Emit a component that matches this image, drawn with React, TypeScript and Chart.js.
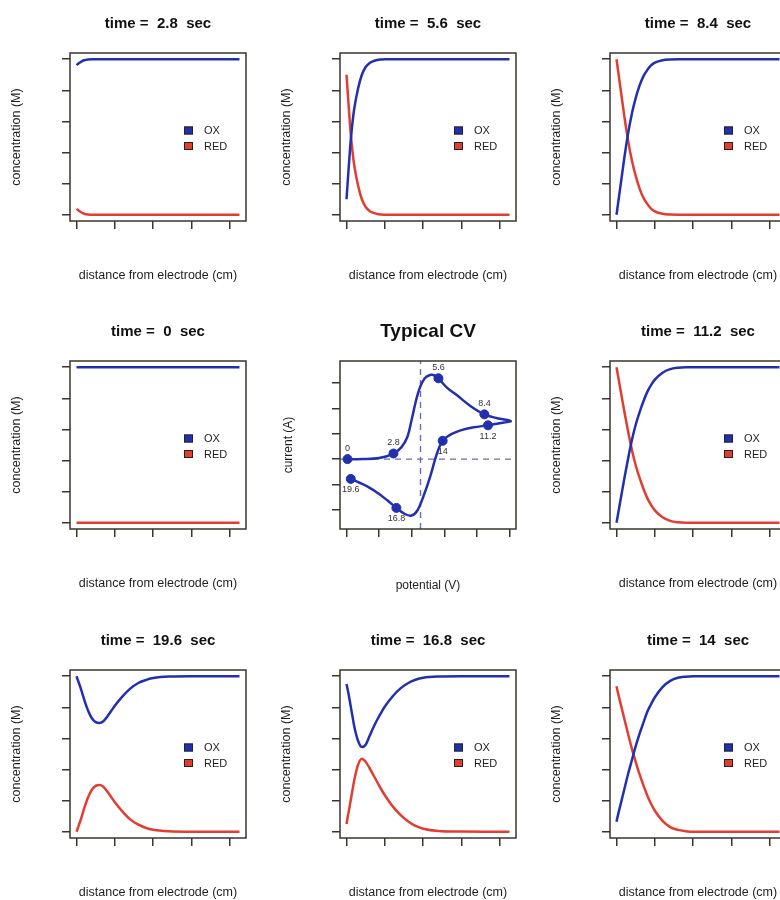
import React, { useEffect, useRef } from 'react';
import { Chart, registerables } from 'chart.js';

Chart.register(...registerables);

const FONT = '"Liberation Sans", Arial, Helvetica, sans-serif';
const BLUE = '#2230b0';
const RED = '#e23d31';
const FRAME = '#3a362c';
const TEXT = '#1e1e1e';
const DASH = '#6a6cb4';

// ---------- concentration profiles ----------
const distance = [0, 0.05, 0.1, 0.15, 0.2, 0.3, 0.4, 0.5, 0.6, 0.7, 0.8, 0.9, 1.0, 1.2, 1.4, 1.6, 1.8, 2.0, 2.4, 3.0, 3.6, 4.25];
const distanceTicks = [0, 1, 2, 3, 4];
const concTicks = [0, 0.2, 0.4, 0.6, 0.8, 1.0];

const ox_0 = [1, 1, 1, 1, 1, 1, 1, 1, 1, 1, 1, 1, 1, 1, 1, 1, 1, 1, 1, 1, 1, 1];
const red_0 = [0, 0, 0, 0, 0, 0, 0, 0, 0, 0, 0, 0, 0, 0, 0, 0, 0, 0, 0, 0, 0, 0];
const ox_2_8 = [0.962, 0.972, 0.981, 0.988, 0.993, 0.998, 1, 1, 1, 1, 1, 1, 1, 1, 1, 1, 1, 1, 1, 1, 1, 1];
const red_2_8 = [0.038, 0.028, 0.019, 0.012, 0.007, 0.002, 0, 0, 0, 0, 0, 0, 0, 0, 0, 0, 0, 0, 0, 0, 0, 0];
const ox_5_6 = [0.10, 0.28, 0.45, 0.58, 0.68, 0.81, 0.90, 0.95, 0.975, 0.988, 0.995, 0.998, 1, 1, 1, 1, 1, 1, 1, 1, 1, 1];
const red_5_6 = [0.90, 0.72, 0.55, 0.42, 0.32, 0.19, 0.10, 0.05, 0.025, 0.012, 0.005, 0.002, 0, 0, 0, 0, 0, 0, 0, 0, 0, 0];
const ox_8_4 = [0, 0.09, 0.18, 0.27, 0.36, 0.52, 0.65, 0.75, 0.83, 0.89, 0.93, 0.96, 0.978, 0.994, 0.999, 1, 1, 1, 1, 1, 1, 1];
const red_8_4 = [1, 0.91, 0.82, 0.73, 0.64, 0.48, 0.35, 0.25, 0.17, 0.11, 0.07, 0.04, 0.022, 0.006, 0.001, 0, 0, 0, 0, 0, 0, 0];
const ox_11_2 = [0, 0.07, 0.14, 0.21, 0.28, 0.41, 0.53, 0.63, 0.71, 0.78, 0.84, 0.885, 0.92, 0.965, 0.988, 0.997, 1, 1, 1, 1, 1, 1];
const red_11_2 = [1, 0.93, 0.86, 0.79, 0.72, 0.59, 0.47, 0.37, 0.29, 0.22, 0.16, 0.115, 0.08, 0.035, 0.012, 0.003, 0, 0, 0, 0, 0, 0];
const ox_14 = [0.065, 0.12, 0.17, 0.22, 0.27, 0.37, 0.46, 0.55, 0.63, 0.70, 0.77, 0.82, 0.865, 0.93, 0.97, 0.99, 0.997, 1, 1, 1, 1, 1];
const red_14 = [0.935, 0.88, 0.83, 0.78, 0.73, 0.63, 0.535, 0.45, 0.37, 0.30, 0.235, 0.18, 0.135, 0.07, 0.03, 0.012, 0.004, 0, 0, 0, 0, 0];
const ox_16_8 = [0.95, 0.89, 0.82, 0.75, 0.68, 0.585, 0.545, 0.56, 0.615, 0.67, 0.72, 0.765, 0.805, 0.87, 0.92, 0.955, 0.977, 0.99, 0.998, 1, 1, 1];
const red_16_8 = [0.05, 0.12, 0.19, 0.26, 0.33, 0.43, 0.47, 0.45, 0.41, 0.365, 0.32, 0.275, 0.235, 0.165, 0.11, 0.068, 0.038, 0.02, 0.005, 0.001, 0, 0];
const ox_19_6 = [1, 0.965, 0.93, 0.89, 0.85, 0.78, 0.73, 0.705, 0.70, 0.71, 0.74, 0.775, 0.81, 0.87, 0.92, 0.955, 0.975, 0.988, 0.998, 1, 1, 1];
const red_19_6 = [0, 0.035, 0.07, 0.11, 0.15, 0.22, 0.27, 0.295, 0.30, 0.29, 0.26, 0.225, 0.19, 0.13, 0.08, 0.047, 0.026, 0.013, 0.003, 0, 0, 0];

// ---------- cyclic voltammogram ----------
const cvPotential = [0.03, 0.5, 1.0, 1.44, 1.68, 1.86, 1.99, 2.13, 2.25, 2.40, 2.56, 2.71, 2.82, 3.08, 3.38, 3.80, 4.23, 4.62, 5.04, 4.70, 4.34, 3.90, 3.50, 3.20, 2.95, 2.77, 2.56, 2.35, 2.17, 1.99, 1.79, 1.53, 1.25, 1.00, 0.70, 0.40, 0.13];
const cvCurrent = [0, 0, 0.04, 0.22, 0.46, 0.85, 1.50, 2.29, 2.81, 3.18, 3.31, 3.29, 3.18, 2.81, 2.52, 2.09, 1.76, 1.61, 1.50, 1.41, 1.33, 1.25, 1.13, 0.97, 0.72, 0.20, -0.72, -1.50, -2.03, -2.22, -2.16, -1.92, -1.62, -1.37, -1.12, -0.93, -0.78];
const cvMarkerPotential = [0.03, 1.44, 2.82, 4.23, 4.34, 2.95, 1.53, 0.13];
const cvMarkerCurrent = [0, 0.22, 3.18, 1.76, 1.33, 0.72, -1.92, -0.78];
const cvMarkerTime = ['0', '2.8', '5.6', '8.4', '11.2', '14', '16.8', '19.6'];
const cvLabelSide = [1, 1, 1, 1, -1, -1, -1, -1]; // 1 = above, -1 = below
const cvE0 = 2.27;
const cvPotentialTicks = [0, 1, 2, 3, 4, 5];
const cvCurrentTicks = [-2, -1, 0, 1, 2, 3];
const CV_X_MIN = -0.2, CV_X_MAX = 5.2, CV_Y_MIN = -2.75, CV_Y_MAX = 3.86;

const CONC_X_MIN = -0.17, CONC_X_MAX = 4.42, CONC_Y_MIN = -0.04, CONC_Y_MAX = 1.04;

const panelTimes = ['2.8', '5.6', '8.4', '0', 'CV', '11.2', '19.6', '16.8', '14'];
const panelOx: Record<string, number[]> = { '0': ox_0, '2.8': ox_2_8, '5.6': ox_5_6, '8.4': ox_8_4, '11.2': ox_11_2, '14': ox_14, '16.8': ox_16_8, '19.6': ox_19_6 };
const panelRed: Record<string, number[]> = { '0': red_0, '2.8': red_2_8, '5.6': red_5_6, '8.4': red_8_4, '11.2': red_11_2, '14': red_14, '16.8': red_16_8, '19.6': red_19_6 };

const COL_X = [0, 270, 540];
const ROW_Y = [0, 308, 617];

const framePlugin = {
  id: 'rFrame',
  afterDraw(chart: any) {
    const { ctx, chartArea: a } = chart;
    ctx.save();
    ctx.strokeStyle = FRAME;
    ctx.lineWidth = 1.5;
    ctx.strokeRect(a.left, a.top, a.right - a.left, a.bottom - a.top);
    ctx.restore();
  },
};

const legendPlugin = {
  id: 'rLegend',
  afterDraw(chart: any) {
    const { ctx, chartArea: a } = chart;
    const items = [{ label: 'OX', color: BLUE }, { label: 'RED', color: RED }];
    ctx.save();
    items.forEach((it, i) => {
      const cy = a.top + 77.5 + i * 15.5;
      const x = a.left + 114;
      ctx.fillStyle = it.color;
      ctx.fillRect(x, cy - 4, 9, 8);
      ctx.strokeStyle = '#222';
      ctx.lineWidth = 1;
      ctx.strokeRect(x + 0.5, cy - 3.5, 8, 7);
      ctx.fillStyle = TEXT;
      ctx.font = `11px ${FONT}`;
      ctx.textAlign = 'left';
      ctx.textBaseline = 'middle';
      ctx.fillText(it.label, a.left + 134, cy + 0.5);
    });
    ctx.restore();
  },
};

const cvLabelPlugin = {
  id: 'cvLabels',
  afterDatasetsDraw(chart: any) {
    const meta = chart.getDatasetMeta(0);
    const ctx = chart.ctx;
    ctx.save();
    ctx.font = `9px ${FONT}`;
    ctx.fillStyle = '#333';
    ctx.textAlign = 'center';
    ctx.textBaseline = 'middle';
    meta.data.forEach((pt: any, i: number) => {
      ctx.fillText(cvMarkerTime[i], pt.x, pt.y - 11 * cvLabelSide[i]);
    });
    ctx.restore();
  },
};

function axis(min: number, max: number, ticks: number[], title: string, horizontal: boolean, titleSize: number, titlePad: number) {
  return {
    type: 'linear',
    min,
    max,
    bounds: 'data',
    afterBuildTicks: (s: any) => {
      s.ticks = ticks.map((v) => ({ value: v }));
    },
    ticks: { display: false },
    grid: { display: true, drawOnChartArea: false, drawTicks: true, tickLength: 8, color: FRAME, lineWidth: 1.5 },
    border: { display: false },
    title: {
      display: true,
      text: title,
      color: TEXT,
      font: { family: FONT, size: titleSize },
      padding: horizontal ? { top: 0, bottom: titlePad } : { top: titlePad, bottom: 0 },
    },
    afterFit: (s: any) => {
      if (horizontal) s.height = 87;
      else s.width = 70;
    },
  };
}

function baseOptions(title: string, titleSize: number, padTop: number, padBottom: number, scales: any) {
  return {
    responsive: false,
    animation: false,
    devicePixelRatio: 1,
    events: [],
    layout: { padding: { left: 0, right: 24, top: 0, bottom: 0 } },
    plugins: {
      legend: { display: false },
      tooltip: { enabled: false },
      title: {
        display: true,
        text: title,
        fullSize: false,
        color: '#111',
        font: { family: FONT, size: titleSize, weight: 'bold' },
        padding: { top: padTop, bottom: padBottom },
      },
    },
    scales,
  };
}

function concConfig(time: string): any {
  const ox = panelOx[time];
  const red = panelRed[time];
  return {
    type: 'line',
    data: {
      datasets: [
        { label: 'OX', data: distance.map((x, i) => ({ x, y: ox[i] })), borderColor: BLUE, borderWidth: 2.5, pointRadius: 0, cubicInterpolationMode: 'monotone' },
        { label: 'RED', data: distance.map((x, i) => ({ x, y: red[i] })), borderColor: RED, borderWidth: 2.5, pointRadius: 0, cubicInterpolationMode: 'monotone' },
      ],
    },
    options: baseOptions(`time =  ${time}  sec`, 15, 14.5, 20.5, {
      x: axis(CONC_X_MIN, CONC_X_MAX, distanceTicks, 'distance from electrode (cm)', true, 12.5, 24.5),
      y: axis(CONC_Y_MIN, CONC_Y_MAX, concTicks, 'concentration (M)', false, 12.5, 9.5),
    }),
    plugins: [framePlugin, legendPlugin],
  };
}

function cvConfig(): any {
  return {
    type: 'line',
    data: {
      datasets: [
        { label: 'times', data: cvMarkerPotential.map((x, i) => ({ x, y: cvMarkerCurrent[i] })), showLine: false, pointRadius: 4.5, pointBackgroundColor: BLUE, pointBorderColor: BLUE, borderColor: BLUE },
        { label: 'CV', data: cvPotential.map((x, i) => ({ x, y: cvCurrent[i] })), borderColor: BLUE, borderWidth: 2.5, pointRadius: 0, tension: 0.35 },
        { label: 'zero', data: [{ x: CV_X_MIN, y: 0 }, { x: CV_X_MAX, y: 0 }], borderColor: DASH, borderWidth: 1.4, borderDash: [6, 5], pointRadius: 0 },
        { label: 'E0', data: [{ x: cvE0, y: CV_Y_MIN }, { x: cvE0, y: CV_Y_MAX }], borderColor: DASH, borderWidth: 1.4, borderDash: [6, 5], pointRadius: 0 },
      ],
    },
    options: baseOptions('Typical CV', 19, 12.5, 17.7, {
      x: axis(CV_X_MIN, CV_X_MAX, cvPotentialTicks, 'potential (V)', true, 12, 23),
      y: axis(CV_Y_MIN, CV_Y_MAX, cvCurrentTicks, 'current (A)', false, 12, 11),
    }),
    plugins: [framePlugin, cvLabelPlugin],
  };
}

function Panel({ time, left, top }: { time: string; left: number; top: number }) {
  const ref = useRef<HTMLCanvasElement>(null);
  useEffect(() => {
    const cfg = time === 'CV' ? cvConfig() : concConfig(time);
    const chart = new Chart(ref.current as HTMLCanvasElement, cfg);
    return () => chart.destroy();
  }, [time]);
  return (
    <canvas
      ref={ref}
      width={270}
      height={308}
      style={{ position: 'absolute', left, top, width: 270, height: 308, display: 'block' }}
    />
  );
}

export default function App() {
  return (
    <div style={{ position: 'absolute', left: 0, top: 0, width: 780, height: 900, overflow: 'hidden', background: '#fff' }}>
      {panelTimes.map((t, i) => (
        <Panel key={t} time={t} left={COL_X[i % 3]} top={ROW_Y[Math.floor(i / 3)]} />
      ))}
    </div>
  );
}
